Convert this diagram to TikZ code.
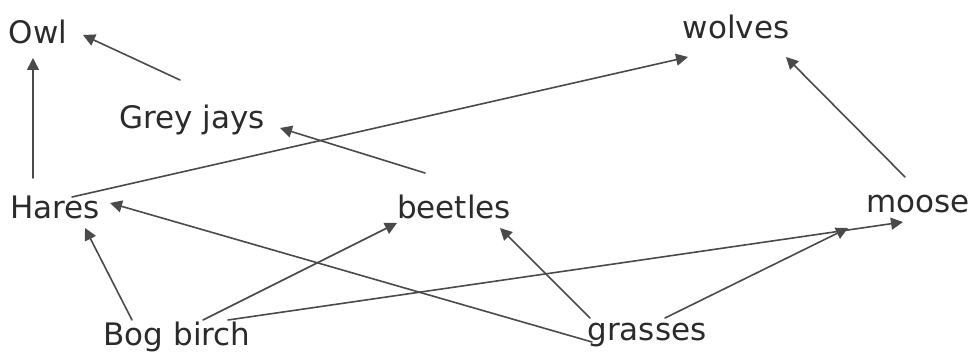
\documentclass[tikz,border=0pt]{standalone}
\usepackage{fontspec}
\setmainfont{DejaVu Sans}
\usetikzlibrary{arrows.meta}
\definecolor{WebInk}{HTML}{2B2B2B}
\definecolor{WebLine}{HTML}{4A4A4A}

\begin{document}
\begin{tikzpicture}[x=0.5pt,y=-0.5pt,line cap=round,line join=round,
  font=\fontsize{15.5}{18}\selectfont,
  species/.style={inner sep=0pt,text=WebInk},
  eats/.style={draw=WebLine,line width=0.8pt,-{Triangle[length=6pt,width=6pt]}}]
  \useasboundingbox (0,0) rectangle (973,357);
  % top level
  \node[species] (owl) at (38,32) {Owl};\node[species] (wolves) at (736,27) {wolves};
  \node[species] (jays) at (192,120) {Grey jays};
  % middle level
  \node[species] (hares) at (55,207) {Hares};\node[species] (beetles) at (454,207) {beetles};\node[species] (moose) at (918,204) {moose};
  % plants
  \node[species] (birch) at (177,337) {Bog birch};\node[species] (grasses) at (647,335) {grasses};
  % who is eaten by whom
  \draw[eats] ([shift={(-22,-29)}]hares.center) -- ([shift={(-5,26)}]owl.center);
  \draw[eats] ([shift={(-12,-40)}]jays.center) -- ([shift={(45,3)}]owl.center);
  \draw[eats] ([shift={(17,-10)}]hares.center) -- ([shift={(-48,30)}]wolves.center);
  \draw[eats] ([shift={(-29,-34)}]beetles.center) -- ([shift={(88,8)}]jays.center);
  \draw[eats] ([shift={(-13,-27)}]moose.center) -- ([shift={(50,30)}]wolves.center);
  \draw[eats] ([shift={(-45,-17)}]birch.center) -- ([shift={(30,21)}]hares.center);
  \draw[eats] ([shift={(26,-17)}]birch.center) -- ([shift={(-57,16)}]beetles.center);
  \draw[eats] ([shift={(51,-17)}]birch.center) -- ([shift={(-15,18)}]moose.center);
  \draw[eats] ([shift={(-55,7)}]grasses.center) -- ([shift={(55,-4)}]hares.center);
  \draw[eats] ([shift={(-57,-17)}]grasses.center) -- ([shift={(46,21)}]beetles.center);
  \draw[eats] ([shift={(18,-17)}]grasses.center) -- ([shift={(-70,24)}]moose.center);
\end{tikzpicture}
\end{document}
